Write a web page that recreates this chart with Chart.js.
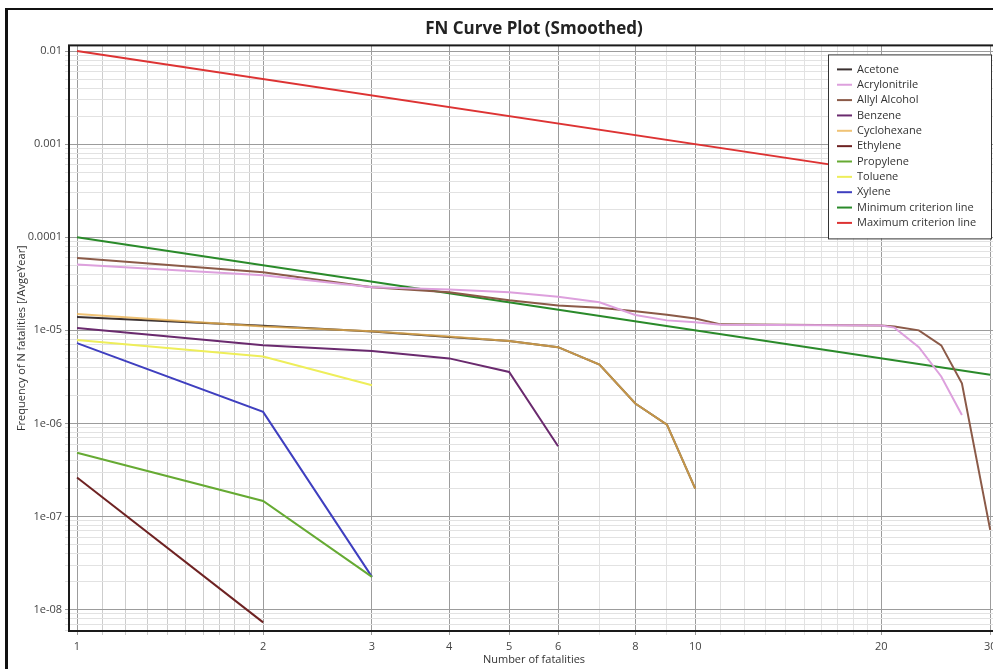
<!DOCTYPE html>
<html>
<head>
<meta charset="utf-8">
<title>FN Curve Plot (Smoothed)</title>
<script src="https://cdn.jsdelivr.net/npm/chart.js@4.4.1/dist/chart.umd.min.js"></script>
<style>
  html, body { margin: 0; padding: 0; background: #fff; overflow: hidden; }
  #frame { position: absolute; left: 5px; top: 8px; width: 1100px; height: 800px;
           border-left: 3px solid #111; border-top: 2px solid #111; }
  #fn { position: absolute; left: 0; top: 0; }
</style>
</head>
<body>
<div id="frame"></div>
<canvas id="fn" width="1010" height="669"></canvas>
<script>
// [N, frequency] pairs
const acetone = [[1, 1.39e-5], [2, 1.12e-5], [3, 9.7e-6], [4, 8.5e-6], [5, 7.7e-6], [6, 6.6e-6],
                 [7, 4.3e-6], [8, 1.64e-6], [9, 9.7e-7], [10, 2.0e-7]];
const acrylonitrile = [[1, 5.1e-5], [2, 3.9e-5], [3, 2.9e-5], [4, 2.75e-5], [5, 2.57e-5], [6, 2.3e-5],
                       [7, 2.0e-5], [8, 1.46e-5], [9, 1.28e-5], [10, 1.22e-5], [11, 1.15e-5],
                       [20, 1.13e-5], [21, 1.07e-5], [23, 6.6e-6], [25, 3.2e-6], [27, 1.23e-6]];
const allylAlcohol = [[1, 6.0e-5], [2, 4.2e-5], [3, 2.9e-5], [4, 2.57e-5], [5, 2.1e-5], [6, 1.85e-5],
                      [7, 1.75e-5], [8, 1.6e-5], [9, 1.47e-5], [10, 1.34e-5], [11, 1.16e-5],
                      [20, 1.13e-5], [21, 1.1e-5], [23, 1.0e-5], [25, 6.9e-6], [27, 2.7e-6], [30, 7.2e-8]];
const benzene = [[1, 1.06e-5], [2, 6.9e-6], [3, 6.0e-6], [4, 5.0e-6], [5, 3.57e-6], [6, 5.7e-7]];
const cyclohexane = [[1, 1.5e-5], [2, 1.1e-5], [3, 9.8e-6], [4, 8.6e-6], [5, 7.7e-6], [6, 6.6e-6],
                     [7, 4.3e-6], [8, 1.64e-6], [9, 9.7e-7], [10, 2.0e-7]];
const ethylene = [[1, 2.63e-7], [2, 7.3e-9]];
const propylene = [[1, 4.85e-7], [2, 1.47e-7], [3, 2.25e-8]];
const toluene = [[1, 7.9e-6], [2, 5.25e-6], [3, 2.57e-6]];
const xylene = [[1, 7.3e-6], [2, 1.33e-6], [3, 2.25e-8]];
const minCriterion = [[1, 1e-4], [30, 3.33e-6]];
const maxCriterion = [[1, 1e-2], [30, 3.33e-4]];

const xGridValues = [1, 1.1, 1.2, 1.3, 1.4, 1.5, 1.6, 1.7, 1.8, 1.9, 2, 3, 4, 5, 6, 7, 8, 9, 10,
                     11, 12, 13, 14, 15, 16, 17, 18, 19, 20, 30];
const xTickLabels = [1, 2, 3, 4, 5, 6, 8, 10, 20, 30];
const yDecades = [1e-8, 1e-7, 1e-6, 1e-5, 1e-4, 1e-3, 1e-2];
const yTickLabels = ['1e-08', '1e-07', '1e-06', '1e-05', '0.0001', '0.001', '0.01'];
const yMinorSteps = [2, 3, 4, 5, 6, 7, 8, 9];

const pts = arr => arr.map(([x, y]) => ({ x, y }));

function series(label, data, color, order) {
  return { label, data: pts(data), borderColor: color, backgroundColor: color,
           borderWidth: 2, pointRadius: 0, tension: 0, fill: false, order: order || 0 };
}

const datasets = [
  series('Acetone', acetone, '#3a3030', 10),
  series('Acrylonitrile', acrylonitrile, '#dda0dd'),
  series('Allyl Alcohol', allylAlcohol, '#8b5a48'),
  series('Benzene', benzene, '#6a2a6e'),
  series('Cyclohexane', cyclohexane, 'rgba(236,178,80,0.78)'),
  series('Ethylene', ethylene, '#6e2222'),
  series('Propylene', propylene, '#66aa33'),
  series('Toluene', toluene, '#eeee5a'),
  series('Xylene', xylene, '#3f3fbf'),
  series('Minimum criterion line', minCriterion, '#2a8a2a'),
  series('Maximum criterion line', maxCriterion, '#dd3333')
];

const boxLegend = {
  id: 'boxLegend',
  afterDatasetsDraw(chart) {
    const { ctx, chartArea: a } = chart;
    ctx.save();
    ctx.lineWidth = 2;
    ctx.strokeStyle = '#1a1a1a';
    ctx.strokeRect(a.left, a.top, a.right - a.left, a.bottom - a.top);

    const x = a.right - 171, y = a.top + 9, w = 163, h = 184;
    ctx.fillStyle = '#fff';
    ctx.fillRect(x, y, w, h);
    ctx.lineWidth = 1;
    ctx.strokeStyle = '#333';
    ctx.strokeRect(x + 0.5, y + 0.5, w, h);
    ctx.font = '11px "Open Sans"';
    ctx.textBaseline = 'middle';
    chart.data.datasets.forEach((ds, i) => {
      const cy = y + 15 + i * 15.35;
      ctx.strokeStyle = ds.borderColor;
      ctx.lineWidth = 2;
      ctx.beginPath();
      ctx.moveTo(x + 9, cy);
      ctx.lineTo(x + 24, cy);
      ctx.stroke();
      ctx.fillStyle = '#333';
      ctx.fillText(ds.label, x + 29, cy);
    });
    ctx.restore();
  }
};

const font = { family: 'Open Sans', size: 11 };

new Chart(document.getElementById('fn'), {
  type: 'line',
  data: { datasets },
  plugins: [boxLegend],
  options: {
    responsive: false,
    animation: false,
    devicePixelRatio: 1,
    layout: { padding: { left: 10, right: 11, top: 15, bottom: 1 }, autoPadding: false },
    plugins: {
      legend: { display: false },
      tooltip: { enabled: false },
      title: {
        display: true,
        text: 'FN Curve Plot (Smoothed)',
        fullSize: false,
        color: '#222',
        font: { family: 'Open Sans', size: 17, weight: 'bold' },
        padding: { top: 4, bottom: 6 }
      }
    },
    scales: {
      x: {
        type: 'logarithmic',
        min: 0.9706,
        max: 31,
        afterBuildTicks: s => {
          s.ticks = xGridValues.map(v => ({ value: v, major: xTickLabels.includes(v) }));
        },
        afterFit: s => { s.height = 37; },
        ticks: {
          autoSkip: false, maxRotation: 0, padding: 5, color: '#444', font,
          callback: (v, i, ticks) => (ticks[i].major ? String(v) : '')
        },
        grid: {
          tickLength: 4,
          color: ctx => (ctx.tick && ctx.tick.major ? '#9c9c9c'
                        : (ctx.tick && ctx.tick.value < 2 ? '#cdcdcd' : '#e2e2e2'))
        },
        border: { display: false },
        title: { display: true, text: 'Number of fatalities', color: '#333', font,
                 padding: { top: 0, bottom: 2 } }
      },
      y: {
        type: 'logarithmic',
        min: 5.9e-9,
        max: 0.0115,
        afterBuildTicks: s => {
          const t = [];
          yDecades.forEach((d, k) => {
            t.push({ value: d, major: true, label: yTickLabels[k] });
            yMinorSteps.forEach(m => {
              const v = (d / 10) * m;
              if (v >= s.min && v <= s.max) t.push({ value: v, major: false });
            });
          });
          t.sort((a, b) => a.value - b.value);
          s.ticks = t;
        },
        afterFit: s => { s.width = 59; },
        ticks: {
          autoSkip: false, padding: 3, color: '#444', font,
          callback: (v, i, ticks) => (ticks[i].major ? ticks[i].label : '')
        },
        grid: {
          tickLength: 4,
          color: ctx => (ctx.tick && ctx.tick.major ? '#9c9c9c' : '#e2e2e2')
        },
        border: { display: false },
        title: { display: true, text: 'Frequency of N fatalities [/AvgeYear]', color: '#333', font,
                 padding: { top: 5, bottom: 0 } }
      }
    }
  }
});
</script>
</body>
</html>
